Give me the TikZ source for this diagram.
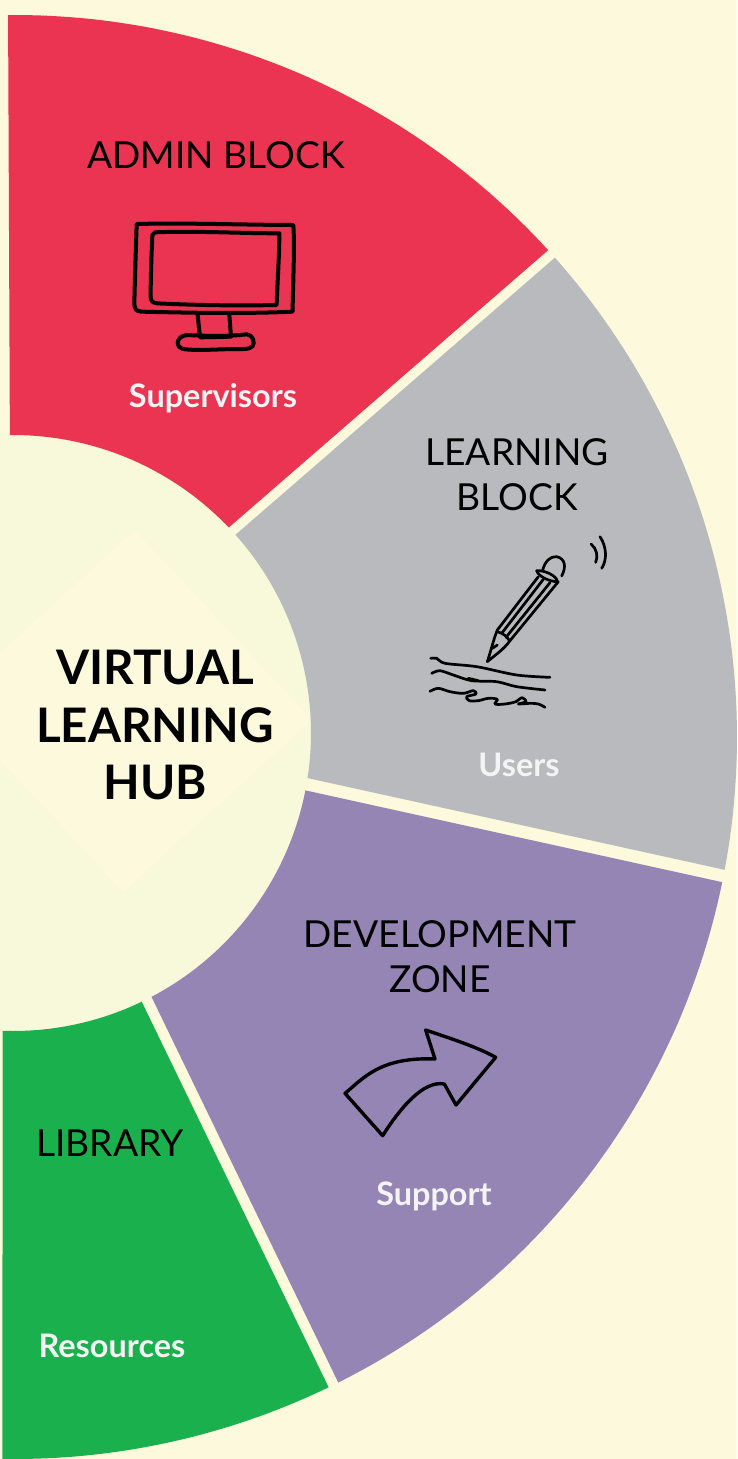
\documentclass[tikz,border=0pt]{standalone}
\usepackage{fontspec}
\setmainfont{Lato}
\usetikzlibrary{calc}
\definecolor{bgc}{HTML}{FDF9DC}
\definecolor{discc}{HTML}{F8F8DA}
\definecolor{diamc}{HTML}{FCF9DC}
\definecolor{redc}{HTML}{EB3352}
\definecolor{grayc}{HTML}{B9BABD}
\definecolor{purpc}{HTML}{9485B5}
\definecolor{greenc}{HTML}{1BB04E}
\definecolor{softw}{HTML}{F4F4F4}
\tikzset{
  title/.style={text=black,align=center,inner sep=0pt,font=\fontsize{37.2}{44.5}\selectfont},
  sub/.style={text=softw,inner sep=0pt,anchor=base,font=\fontsize{32.4}{38}\selectfont\bfseries},
  icon/.style={draw=black,line width=#1,line cap=round,line join=round},
  icon/.default=4pt
}
\begin{document}
\begin{tikzpicture}[x=1pt,y=-1pt]
\clip (0,0) rectangle (737,1459);
\fill[bgc] (0,0) rectangle (737,1459);
\coordinate (c) at (13,733);
\fill[discc] (c) circle[radius=300pt];
\fill[diamc] (135,530) -- (312,720) -- (123,892) -- (-54,702) -- cycle;
% sectors
\newcommand{\sectorshape}[5]{% colour, outer from, outer to, inner from, inner to
  \fill[#1] plot[domain=#2:#3,samples=60] ({15+722*cos(\x)},{737-722*sin(\x)})
    -- plot[domain=#4:#5,samples=40] ({13+298*cos(\x)},{733-298*sin(\x)}) -- cycle;}
\sectorshape{redc}{90.55}{42.4}{43.6}{90.6}
\sectorshape{grayc}{41.6}{-10.6}{-8.7}{41.7}
\sectorshape{purpc}{-11.6}{-63.4}{-62.3}{-11.1}
\sectorshape{greenc}{-64.25}{-91}{-92}{-64.4}
% titles
\node[title] (admin) at (216,155.5) {ADMIN BLOCK};
\node[title] (learn) at (517,474.5) {LEARNING\\BLOCK};
\node[title] (dev) at (440,956.5) {DEVELOPMENT\\ZONE};
\node[title] (lib) at (110,1143.5) {LIBRARY};
\node[sub] (sup) at (213,407) {Supervisors};
\node[sub] (users) at (519,776) {Users};
\node[sub] (supp) at (434,1205) {Support};
\node[sub] (res) at (112,1357) {Resources};
\node[text=black,align=center,inner sep=0pt,font=\fontsize{47.6}{57.5}\selectfont\bfseries] (hub) at (155,725) {VIRTUAL\\LEARNING\\HUB};
% monitor
\begin{scope}[shift={(100,200)},scale=0.33333]
\draw[icon] (110,72) .. controls (250,68) and (450,75) .. (580,75) .. controls (585,150) and (578,260) .. (578,335)
  .. controls (420,342) and (260,338) .. (125,335) .. controls (108,335) and (103,325) .. (103,310) .. controls (105,220) and (108,140) .. (110,72) -- cycle;
\draw[icon] (165,97) .. controls (280,92) and (420,100) .. (538,100) .. controls (538,170) and (532,250) .. (530,315)
  .. controls (400,318) and (280,315) .. (170,310) .. controls (155,308) and (152,300) .. (152,290) .. controls (152,220) and (155,160) .. (157,105) -- cycle;
\draw[icon] (293,345) -- (300,412) -- (393,410) -- (388,345);
\draw[icon] (260,405) .. controls (320,408) and (380,410) .. (440,403) .. controls (460,403) and (465,430) .. (458,438)
  .. controls (450,450) and (420,447) .. (400,447) .. controls (350,448) and (300,452) .. (255,448) .. controls (225,445) and (225,410) .. (260,405) -- cycle;
\end{scope}
% pencil
\begin{scope}[shift={(410,520)},scale=0.33333]
\tikzset{pen/.style={icon=2.7pt}}
\draw[pen] (385,170) -- (262,330) .. controls (250,360) and (245,385) .. (232,425) .. controls (255,405) and (280,390) .. (300,362) -- (445,185);
\draw[pen] (262,335) .. controls (280,340) and (292,350) .. (298,362);
\draw[pen] (247,385) -- (262,375);
\draw[pen] (400,178) -- (275,340);
\draw[pen] (420,188) -- (288,352);
\draw[pen] (380,152) .. controls (400,150) and (440,165) .. (442,185) .. controls (420,185) and (385,170) .. (380,152) -- cycle;
\draw[pen] (398,150) .. controls (405,125) and (420,108) .. (440,110) .. controls (465,115) and (470,140) .. (455,168);
\draw[pen] (543,72) .. controls (560,85) and (565,110) .. (557,127);
\draw[pen] (570,50) .. controls (590,80) and (592,120) .. (575,145);
\draw[pen] plot[smooth] coordinates {(62,415) (80,415) (105,430) (200,440) (320,465) (420,472)};
\draw[pen] plot[smooth] coordinates {(65,460) (90,452) (130,465) (185,482) (260,485) (320,500) (405,510)};
\draw[pen] (175,475) -- (205,482);
\draw[pen] plot[smooth,tension=0.6] coordinates {(60,514) (85,505) (120,515) (160,520) (190,512) (198,522) (170,530) (178,542) (205,542) (235,535) (262,538) (255,552) (285,552) (318,545) (335,533) (348,545) (325,552) (360,550) (385,552) (405,562)};
\end{scope}
% arrow
\begin{scope}[shift={(330,1015)},scale=0.33333]
\draw[icon=3.4pt] (45,235) .. controls (100,190) and (150,125) .. (315,132) -- (287,45)
  .. controls (360,70) and (440,95) .. (497,127) -- (378,270) -- (343,207)
  .. controls (280,195) and (210,280) .. (158,362) -- cycle;
\end{scope}
\end{tikzpicture}
\end{document}
